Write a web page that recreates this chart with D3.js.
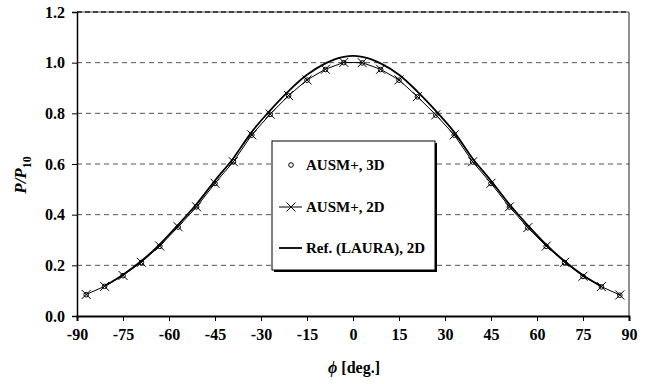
<!DOCTYPE html>
<html>
<head>
<meta charset="utf-8">
<script src="https://cdn.jsdelivr.net/npm/d3@7"></script>
<style>
  body { margin: 0; background: #fff; }
  svg text { font-family: "Liberation Serif", "Times New Roman", serif; font-weight: bold; }
</style>
</head>
<body>
<div id="chart"></div>
<script>
// angles and pressure ratios
let phiAusm = [-87, -81, -75, -69, -63, -57, -51, -45, -39, -33, -27, -21, -15, -9, -3,
    3, 9, 15, 21, 27, 33, 39, 45, 51, 57, 63, 69, 75, 81, 87];
let ausm2D = [0.085, 0.117, 0.160, 0.212, 0.276, 0.352, 0.431, 0.524, 0.609, 0.715, 0.797, 0.870, 0.932, 0.974, 1.001,
    1.000, 0.974, 0.932, 0.866, 0.794, 0.715, 0.609, 0.524, 0.431, 0.349, 0.276, 0.212, 0.157, 0.116, 0.083];
let ausm3D = [0.084, 0.117, 0.159, 0.211, 0.275, 0.351, 0.431, 0.523, 0.609, 0.714, 0.796, 0.869, 0.931, 0.973, 1.000,
    0.999, 0.973, 0.931, 0.865, 0.793, 0.714, 0.608, 0.523, 0.430, 0.348, 0.275, 0.211, 0.156, 0.115, 0.082];
let phiRef = [-81, -75, -69, -63, -57, -51, -45, -39, -33, -27, -21, -15, -9, -6, -3, 0,
    3, 6, 9, 15, 21, 27, 33, 39, 45, 51, 57, 63, 69, 75, 81];
let laura2D = [0.118, 0.163, 0.217, 0.283, 0.360, 0.442, 0.535, 0.623, 0.727, 0.812, 0.888, 0.952, 0.997, 1.013, 1.023, 1.027,
    1.023, 1.013, 0.997, 0.952, 0.886, 0.810, 0.726, 0.622, 0.534, 0.441, 0.358, 0.282, 0.216, 0.161, 0.117];
let xTicks = [-90, -75, -60, -45, -30, -15, 0, 15, 30, 45, 60, 75, 90];
let yTicks = [0.0, 0.2, 0.4, 0.6, 0.8, 1.0, 1.2];
let legendLabels = ["AUSM+, 3D", "AUSM+, 2D", "Ref. (LAURA), 2D"];

let W = 651, H = 384;
let plotL = 77, plotR = 629, plotT = 12, plotB = 316;

let svg = d3.select('#chart').append('svg')
    .attr('width', W)
    .attr('height', H);

let x = d3.scaleLinear().domain([-90, 90]).range([plotL, plotR]);
let y = d3.scaleLinear().domain([0, 1.2]).range([plotB, plotT]);

// dashed gridlines
svg.selectAll('line.grid')
    .data(yTicks.filter(d => d > 0 && d < 1.2))
    .enter().append('line')
    .attr('class', 'grid')
    .attr('x1', plotL).attr('x2', plotR)
    .attr('y1', d => y(d)).attr('y2', d => y(d))
    .style('stroke', '#555')
    .style('stroke-width', 1)
    .style('stroke-dasharray', '5,4');

// top border (dashed look) and right border
svg.append('line')
    .attr('x1', plotL).attr('x2', plotR)
    .attr('y1', y(1.2)).attr('y2', y(1.2))
    .style('stroke', '#aaa').style('stroke-width', 2);
svg.append('line')
    .attr('x1', plotL).attr('x2', plotR)
    .attr('y1', y(1.2)).attr('y2', y(1.2))
    .style('stroke', '#444').style('stroke-width', 2)
    .style('stroke-dasharray', '5,3');
svg.append('line')
    .attr('x1', plotR).attr('x2', plotR)
    .attr('y1', y(1.2)).attr('y2', y(0))
    .style('stroke', '#222').style('stroke-width', 1);

// axes
let xAxis = svg.append('g')
    .attr('transform', 'translate(0,' + plotB + ')')
    .call(d3.axisBottom(x).tickValues(xTicks).tickFormat(d => String(d)).tickSize(5).tickPadding(8));
xAxis.select('.domain').style('stroke', '#000').style('stroke-width', 2);
xAxis.selectAll('.tick line').style('stroke', '#000');
xAxis.selectAll('text').style('font-size', '16px').attr('fill', '#000');

let yAxis = svg.append('g')
    .attr('transform', 'translate(' + plotL + ',0)')
    .call(d3.axisLeft(y).tickValues(yTicks).tickFormat(d => d.toFixed(1)).tickSize(5).tickPadding(7));
yAxis.select('.domain').style('stroke', '#000').style('stroke-width', 1.5);
yAxis.selectAll('.tick line').style('stroke', '#000');
yAxis.selectAll('text').style('font-size', '16px').attr('fill', '#000');

// series
let lineAusm = d3.line().x((d, i) => x(phiAusm[i])).y(d => y(d));
let lineRef = d3.line().x((d, i) => x(phiRef[i])).y(d => y(d)).curve(d3.curveMonotoneX);

svg.append('path')
    .attr('d', lineRef(laura2D))
    .style('fill', 'none').style('stroke', '#000').style('stroke-width', 1.8);

svg.append('path')
    .attr('d', lineAusm(ausm2D))
    .style('fill', 'none').style('stroke', '#000').style('stroke-width', 1);

function cross(g, cx, cy, s) {
    g.append('path')
        .attr('d', 'M' + (cx - s) + ',' + (cy - s) + 'L' + (cx + s) + ',' + (cy + s) +
            'M' + (cx - s) + ',' + (cy + s) + 'L' + (cx + s) + ',' + (cy - s))
        .style('stroke', '#000').style('stroke-width', 1);
}

let marks = svg.append('g');
ausm2D.forEach((d, i) => cross(marks, x(phiAusm[i]), y(d), 4.5));
marks.selectAll('circle')
    .data(ausm3D)
    .enter().append('circle')
    .attr('cx', (d, i) => x(phiAusm[i]))
    .attr('cy', d => y(d))
    .attr('r', 2.3)
    .style('fill', 'none').style('stroke', '#000').style('stroke-width', 1);

// axis titles
let yTitle = svg.append('text')
    .attr('transform', 'translate(26,175) rotate(-90)')
    .attr('text-anchor', 'middle')
    .style('font-size', '17px');
yTitle.append('tspan').style('font-style', 'italic').text('P/P');
yTitle.append('tspan').attr('dy', 5).style('font-size', '12px').text('10');

let xTitle = svg.append('text')
    .attr('x', 354).attr('y', 373)
    .attr('text-anchor', 'middle')
    .style('font-size', '16px');
xTitle.append('tspan').style('font-style', 'italic').text('\u03D5');
xTitle.append('tspan').text(' [deg.]');

// legend
let lg = svg.append('g');
let bx = 272, by = 141, bw = 163, bh = 129;
lg.append('rect')
    .attr('x', bx + 2).attr('y', by + 2).attr('width', bw).attr('height', bh)
    .style('fill', '#000');
lg.append('rect')
    .attr('x', bx).attr('y', by).attr('width', bw).attr('height', bh)
    .style('fill', '#fff').style('stroke', '#000').style('stroke-width', 1);

let rowY = [165, 207, 248];
lg.append('circle')
    .attr('cx', 291).attr('cy', rowY[0]).attr('r', 2.3)
    .style('fill', 'none').style('stroke', '#000');
lg.append('line')
    .attr('x1', 279).attr('x2', 302).attr('y1', rowY[1]).attr('y2', rowY[1])
    .style('stroke', '#000').style('stroke-width', 1);
cross(lg, 291, rowY[1], 4.5);
lg.append('line')
    .attr('x1', 279).attr('x2', 302).attr('y1', rowY[2]).attr('y2', rowY[2])
    .style('stroke', '#000').style('stroke-width', 1.8);

lg.selectAll('text')
    .data(legendLabels)
    .enter().append('text')
    .attr('x', 306)
    .attr('y', (d, i) => rowY[i] + 5)
    .style('font-size', '15px')
    .text(d => d);
</script>
</body>
</html>
